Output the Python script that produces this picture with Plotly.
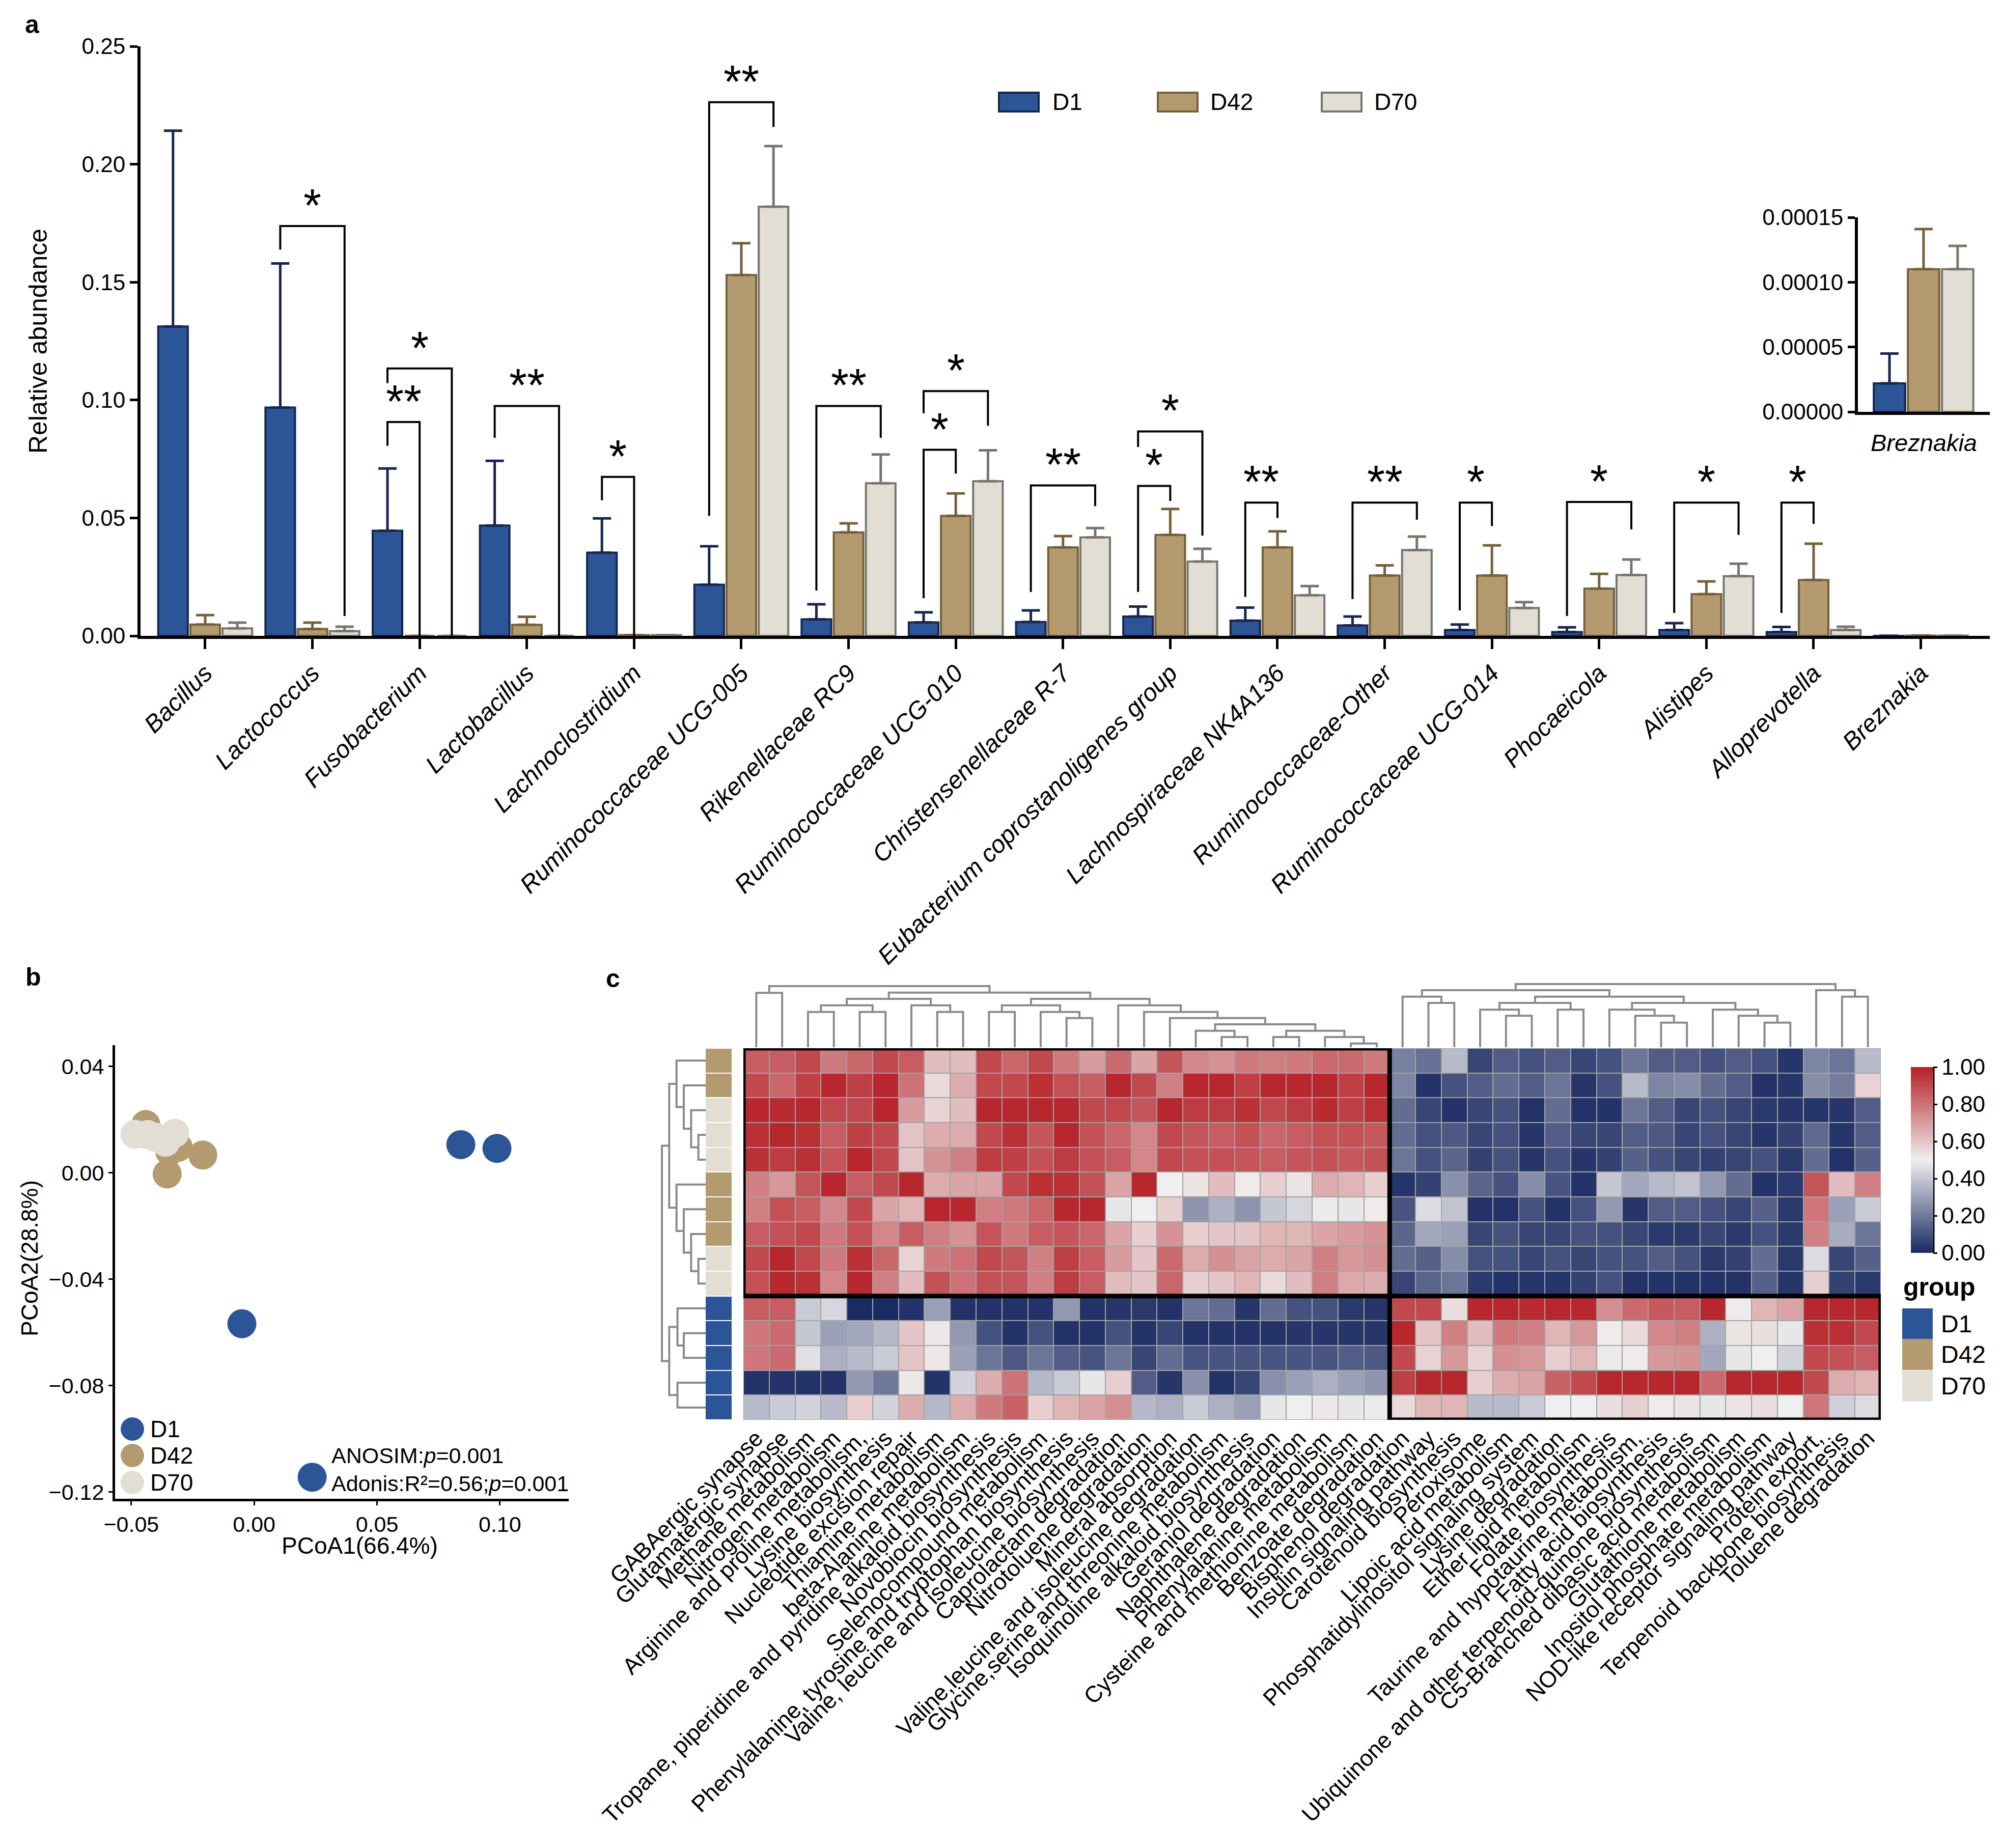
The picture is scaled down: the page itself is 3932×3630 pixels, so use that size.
import plotly.graph_objects as go

W, H = 3932, 3630
def fx(p): return p / W
def fy(p): return 1 - p / H

FONT = "Liberation Sans, Arial, Helvetica, sans-serif"

# ---------------- Panel a data ----------------
genera = ["Bacillus", "Lactococcus", "Fusobacterium", "Lactobacillus", "Lachnoclostridium",
          "Ruminococcaceae UCG-005", "Rikenellaceae RC9", "Ruminococcaceae UCG-010",
          "Christensenellaceae R-7", "Eubacterium coprostanoligenes group",
          "Lachnospiraceae NK4A136", "Ruminococcaceae-Other", "Ruminococcaceae UCG-014",
          "Phocaeicola", "Alistipes", "Alloprevotella", "Breznakia"]
groups = ["D1", "D42", "D70"]
d1_mean = [0.1312, 0.0968, 0.0446, 0.0468, 0.0353, 0.0217, 0.0070, 0.0057, 0.0059, 0.0082,
           0.0065, 0.0044, 0.0025, 0.0016, 0.0025, 0.0016, 0.000022]
d1_upper = [0.2142, 0.1579, 0.0710, 0.0742, 0.0498, 0.0380, 0.0134, 0.0100, 0.0108, 0.0124,
            0.0120, 0.0082, 0.0048, 0.0036, 0.0054, 0.0038, 0.000045]
d42_mean = [0.0048, 0.0029, 0.0, 0.0047, 0.0003, 0.1530, 0.0439, 0.0509, 0.0375, 0.0428,
            0.0375, 0.0256, 0.0256, 0.0200, 0.0177, 0.0237, 0.000110]
d42_upper = [0.0088, 0.0056, None, 0.0081, None, 0.1665, 0.0477, 0.0604, 0.0423, 0.0538,
             0.0443, 0.0299, 0.0384, 0.0263, 0.0231, 0.0391, 0.000141]
d70_mean = [0.0032, 0.0020, 0.0, 0.0, 0.0003, 0.1820, 0.0647, 0.0656, 0.0418, 0.0315,
            0.0172, 0.0364, 0.0118, 0.0258, 0.0253, 0.0025, 0.000110]
d70_upper = [0.0056, 0.0039, None, None, None, 0.2077, 0.0769, 0.0787, 0.0457, 0.0369,
             0.0211, 0.0421, 0.0143, 0.0324, 0.0306, 0.0039, 0.000128]

# significance brackets: (genus index, group a, group b, bracket height, left leg end, right leg end, label)
brackets = [
    (1, 0, 2, 0.1738, 0.1638, 0.0084, "*"),
    (2, 0, 1, 0.0907, 0.0806, 0.0, "**"),
    (2, 0, 2, 0.1134, 0.1072, 0.0, "*"),
    (3, 0, 2, 0.0975, 0.0840, 0.0, "**"),
    (4, 0, 1, 0.0674, 0.0575, 0.0, "*"),
    (5, 0, 2, 0.2263, 0.0509, 0.2158, "**"),
    (6, 0, 2, 0.0975, 0.0192, 0.0840, "**"),
    (7, 0, 1, 0.0789, 0.0160, 0.0688, "*"),
    (7, 0, 2, 0.1038, 0.0944, 0.0891, "*"),
    (8, 0, 2, 0.0638, 0.0186, 0.0550, "**"),
    (9, 0, 1, 0.0636, 0.0186, 0.0572, "*"),
    (9, 0, 2, 0.0867, 0.0801, 0.0425, "*"),
    (10, 0, 1, 0.0565, 0.0165, 0.0500, "**"),
    (11, 0, 2, 0.0565, 0.0156, 0.0493, "**"),
    (12, 0, 1, 0.0565, 0.0108, 0.0466, "*"),
    (13, 0, 2, 0.0568, 0.0084, 0.0452, "*"),
    (14, 0, 2, 0.0565, 0.0097, 0.0428, "*"),
    (15, 0, 1, 0.0565, 0.0097, 0.0475, "*"),
]

# ---------------- Panel b data ----------------
pcoa_d1_x = [0.0841, 0.0988, -0.0050, 0.0236]
pcoa_d1_y = [0.0106, 0.0092, -0.0567, -0.1144]
pcoa_d42_x = [-0.0441, -0.0354, -0.0209, -0.0344, -0.0309]
pcoa_d42_y = [0.0182, -0.0004, 0.0067, 0.0082, 0.0096]
pcoa_d70_x = [-0.0485, -0.0433, -0.0361, -0.0323, -0.0402]
pcoa_d70_y = [0.0145, 0.0144, 0.0115, 0.0149, 0.0134]

# ---------------- Panel c data ----------------
pathways = [
    "GABAergic synapse", "Glutamatergic synapse", "Methane metabolism", "Nitrogen metabolism",
    "Arginine and proline metabolism,", "Lysine biosynthesis", "Nucleotide excision repair",
    "Thiamine metabolism", "beta-Alanine metabolism",
    "Tropane, piperidine and pyridine alkaloid biosynthesis", "Novobiocin biosynthesis",
    "Selenocompound metabolism", "Phenylalanine, tyrosine and tryptophan biosynthesis",
    "Valine, leucine and isoleucine biosynthesis", "Caprolactam degradation",
    "Nitrotoluene degradation", "Mineral absorption",
    "Valine,leucine and isoleucine degradation", "Glycine,serine and threonine metabolism",
    "Isoquinoline alkaloid biosynthesis", "Geraniol degradation", "Naphthalene degradation",
    "Phenylalanine metabolism", "Cysteine and methionine metabolism", "Benzoate degradation",
    "Bisphenol degradation", "Insulin signaling pathway", "Carotenoid biosynthesis",
    "Peroxisome", "Lipoic acid metabolism", "Phosphatidylinositol signaling system",
    "Lysine degradation", "Ether lipid metabolism", "Folate biosynthesis",
    "Taurine and hypotaurine metabolism,", "Fatty acid biosynthesis",
    "Ubiquinone and other terpenoid-quinone biosynthesis", "C5-Branched dibasic acid metabolism",
    "Glutathione metabolism", "Inositol phosphate metabolism",
    "NOD-like receptor signaling pathway", "Protein export,", "Terpenoid backbone biosynthesis",
    "Toluene degradation"]
sample_groups = ["D42", "D42", "D70", "D70", "D70", "D42", "D42", "D42", "D70", "D70",
                 "D1", "D1", "D1", "D1", "D1"]
hm_values = [
    [0.85,0.85,0.90,0.78,0.83,0.90,0.85,0.62,0.62,0.90,0.83,0.90,0.78,0.70,0.82,0.68,0.87,0.75,0.72,0.78,0.77,0.78,0.82,0.82,0.78,
     0.22,0.18,0.37,0.07,0.13,0.10,0.13,0.07,0.10,0.19,0.13,0.13,0.10,0.13,0.10,0.03,0.23,0.19,0.37],
    [0.90,0.83,0.92,0.98,0.92,0.98,0.80,0.55,0.66,0.90,0.90,0.96,0.88,0.85,0.98,0.90,0.77,0.98,0.98,0.92,0.98,0.98,0.98,0.92,0.98,
     0.23,0.02,0.10,0.13,0.17,0.13,0.19,0.03,0.10,0.37,0.23,0.25,0.17,0.13,0.02,0.03,0.25,0.21,0.57],
    [0.98,0.97,0.98,0.90,0.90,0.98,0.70,0.57,0.62,0.98,0.98,0.98,0.98,0.90,0.90,0.87,0.98,0.93,0.93,0.96,0.90,0.93,0.97,0.92,0.96,
     0.17,0.07,0.02,0.07,0.10,0.02,0.17,0.02,0.02,0.19,0.13,0.07,0.10,0.07,0.04,0.03,0.03,0.03,0.13],
    [0.96,0.98,0.96,0.85,0.92,0.90,0.60,0.66,0.66,0.90,0.96,0.87,0.98,0.88,0.83,0.75,0.90,0.87,0.85,0.88,0.83,0.85,0.88,0.88,0.86,
     0.17,0.10,0.12,0.07,0.10,0.03,0.13,0.07,0.07,0.13,0.12,0.07,0.10,0.07,0.03,0.06,0.16,0.03,0.13],
    [0.96,0.93,0.96,0.87,0.98,0.90,0.60,0.72,0.77,0.93,0.92,0.88,0.93,0.88,0.85,0.75,0.90,0.88,0.88,0.87,0.85,0.87,0.88,0.86,0.88,
     0.19,0.10,0.15,0.06,0.10,0.03,0.10,0.03,0.06,0.14,0.10,0.07,0.06,0.07,0.10,0.04,0.17,0.02,0.14],
    [0.77,0.71,0.87,0.98,0.85,0.90,0.98,0.66,0.68,0.68,0.90,0.96,0.96,0.88,0.68,0.98,0.50,0.53,0.62,0.51,0.58,0.53,0.66,0.64,0.58,
     0.03,0.06,0.26,0.15,0.10,0.25,0.11,0.02,0.40,0.32,0.37,0.39,0.28,0.17,0.02,0.04,0.87,0.62,0.77],
    [0.77,0.88,0.85,0.75,0.90,0.68,0.64,0.98,0.98,0.77,0.78,0.83,0.98,0.98,0.48,0.50,0.58,0.27,0.34,0.27,0.40,0.44,0.49,0.48,0.51,
     0.11,0.45,0.39,0.02,0.02,0.10,0.02,0.10,0.28,0.03,0.13,0.13,0.10,0.07,0.14,0.04,0.79,0.30,0.41],
    [0.85,0.88,0.90,0.78,0.88,0.75,0.85,0.77,0.72,0.87,0.78,0.85,0.87,0.83,0.68,0.58,0.72,0.58,0.60,0.60,0.64,0.64,0.68,0.70,0.72,
     0.15,0.32,0.30,0.07,0.10,0.07,0.07,0.10,0.10,0.07,0.04,0.04,0.07,0.04,0.10,0.04,0.77,0.33,0.19],
    [0.90,0.98,0.90,0.78,0.96,0.83,0.57,0.78,0.80,0.90,0.87,0.77,0.92,0.85,0.70,0.60,0.82,0.66,0.73,0.68,0.66,0.68,0.77,0.71,0.73,
     0.17,0.14,0.25,0.10,0.10,0.07,0.10,0.07,0.10,0.10,0.13,0.10,0.04,0.06,0.17,0.04,0.45,0.07,0.14],
    [0.88,0.98,0.96,0.75,0.98,0.77,0.62,0.88,0.80,0.88,0.87,0.77,0.93,0.85,0.62,0.60,0.83,0.58,0.60,0.64,0.55,0.62,0.77,0.67,0.66,
     0.07,0.15,0.19,0.04,0.02,0.03,0.03,0.06,0.10,0.02,0.02,0.02,0.02,0.02,0.14,0.03,0.58,0.06,0.04],
    [0.85,0.85,0.41,0.44,0.00,0.00,0.02,0.30,0.02,0.02,0.02,0.02,0.28,0.02,0.03,0.04,0.02,0.19,0.17,0.03,0.17,0.10,0.10,0.04,0.03,
     0.90,0.90,0.54,0.98,0.98,0.97,0.98,0.98,0.73,0.82,0.86,0.85,0.98,0.51,0.64,0.68,0.98,0.98,0.98],
    [0.79,0.82,0.40,0.30,0.32,0.36,0.60,0.52,0.28,0.10,0.02,0.10,0.02,0.02,0.10,0.02,0.07,0.02,0.02,0.02,0.02,0.03,0.03,0.03,0.03,
     0.98,0.60,0.77,0.62,0.78,0.77,0.64,0.71,0.51,0.55,0.75,0.77,0.34,0.53,0.54,0.48,0.96,0.96,0.90],
    [0.79,0.82,0.46,0.34,0.37,0.41,0.60,0.52,0.30,0.19,0.12,0.19,0.13,0.11,0.19,0.07,0.17,0.11,0.11,0.11,0.11,0.11,0.11,0.13,0.12,
     0.90,0.57,0.71,0.57,0.73,0.71,0.58,0.64,0.49,0.51,0.71,0.72,0.32,0.48,0.50,0.43,0.90,0.88,0.85],
    [0.02,0.02,0.02,0.02,0.28,0.20,0.52,0.02,0.43,0.66,0.80,0.36,0.41,0.48,0.58,0.13,0.03,0.26,0.02,0.07,0.26,0.30,0.34,0.30,0.27,
     0.92,0.98,0.98,0.58,0.66,0.68,0.84,0.90,0.98,0.98,0.98,0.98,0.82,0.98,0.98,0.98,0.90,0.66,0.64],
    [0.37,0.41,0.43,0.37,0.58,0.43,0.66,0.36,0.66,0.78,0.84,0.58,0.64,0.68,0.73,0.36,0.34,0.41,0.34,0.30,0.48,0.50,0.52,0.48,0.49,
     0.55,0.64,0.64,0.37,0.37,0.41,0.50,0.50,0.54,0.58,0.51,0.53,0.48,0.53,0.54,0.50,0.79,0.42,0.45],
]
# column dendrogram merges (node, child, child, height)
col_merges = [
    ("a1", 0, 1, 320), ("a2", 2, 3, 208), ("a3", 4, 5, 208), ("a4", "a2", "a3", 247),
    ("a5", 7, 8, 208), ("a6", 6, "a5", 247), ("a7", "a4", "a6", 285), ("a8", 9, 10, 208),
    ("a9", 12, 13, 172), ("a10", 11, "a9", 208), ("a11", "a8", "a10", 247),
    ("a12", 23, 24, 22), ("a13", 22, "a12", 60), ("a14", 20, 21, 60), ("a15", "a14", "a13", 97),
    ("a16", 18, 19, 60), ("a17", 17, "a16", 97), ("a18", "a17", "a15", 135),
    ("a19", 16, "a18", 172), ("a20", 15, "a19", 208), ("a21", 14, "a20", 247),
    ("a22", "a11", "a21", 285), ("a23", "a7", "a22", 322), ("a24", "a1", "a23", 360),
    ("b1", 26, 27, 261), ("b2", 25, "b1", 298), ("b3", 29, 30, 185), ("b4", 28, "b3", 221),
    ("b5", 31, 32, 221), ("b6", "b4", "b5", 261), ("b7", 35, 36, 145), ("b8", 34, "b7", 185),
    ("b9", 33, "b8", 221), ("b10", 39, 40, 145), ("b11", 38, "b10", 185), ("b12", 37, "b11", 221),
    ("b13", "b9", "b12", 261), ("b14", "b6", "b13", 298), ("b15", "b2", "b14", 336),
    ("b16", 42, 43, 298), ("b17", 41, "b16", 336), ("b18", "b15", "b17", 372),
]
row_merges = [
    ("r1", 3, 4, 15), ("r2", 2, "r1", 30), ("r3", 1, "r2", 45), ("r4", 0, "r3", 60),
    ("r5", 8, 9, 15), ("r6", 7, "r5", 30), ("r7", 6, "r6", 45), ("r8", 5, "r7", 60),
    ("r9", "r4", "r8", 75), ("r10", 11, 12, 45), ("r11", 10, "r10", 58), ("r12", 13, 14, 58),
    ("r13", "r11", "r12", 75), ("r14", "r9", "r13", 90),
]

# ---------------- styles ----------------
fill = {"D1": "#2B5597", "D42": "#B39B6F", "D70": "#E2DED3"}
edge = {"D1": "#17254F", "D42": "#76603A", "D70": "#76766F"}
offsets = [-0.3, 0.0, 0.3]


def dendro_lines(merges):
    pos, hgt = {}, {}
    xs, ys = [], []
    for name, a, b, h in merges:
        pa = pos[a] if isinstance(a, str) else a
        ha = hgt[a] if isinstance(a, str) else 0
        pb = pos[b] if isinstance(b, str) else b
        hb = hgt[b] if isinstance(b, str) else 0
        xs += [pa, pa, pb, pb, None]
        ys += [ha, h, h, hb, None]
        pos[name] = (pa + pb) / 2
        hgt[name] = h
    return xs, ys


fig = go.Figure()

means = [d1_mean, d42_mean, d70_mean]
uppers = [d1_upper, d42_upper, d70_upper]
n = len(genera)
for gi, g in enumerate(groups):
    m = means[gi]
    err = [(u - v) if u is not None else None for u, v in zip(uppers[gi], m)]
    fig.add_trace(go.Bar(
        x=list(range(n)), y=m, name=g, showlegend=False,
        marker=dict(color=fill[g], line=dict(color=edge[g], width=4)),
        error_y=dict(type="data", symmetric=False, array=err, arrayminus=[None] * n,
                     color=edge[g], thickness=5, width=18),
        xaxis="x", yaxis="y"))
    # inset (last genus)
    fig.add_trace(go.Bar(
        x=[0], y=[m[-1]], name=g, showlegend=False,
        marker=dict(color=fill[g], line=dict(color=edge[g], width=4)),
        error_y=dict(type="data", symmetric=False, array=[uppers[gi][-1] - m[-1]],
                     arrayminus=[None], color=edge[g], thickness=5, width=18),
        xaxis="x2", yaxis="y2"))

# brackets
bx, by = [], []
annotations = []
for (ci, ga, gb, h, la, lb, lab) in brackets:
    xa = ci + offsets[ga]
    xb = ci + offsets[gb]
    bx += [xa, xa, xb, xb, None]
    by += [la, h, h, lb, None]
    annotations.append(dict(x=(xa + xb) / 2, y=h, xref="x", yref="y", text=lab,
                            showarrow=False, yanchor="bottom", yshift=-12,
                            font=dict(family=FONT, size=90, color="black")))
fig.add_trace(go.Scatter(x=bx, y=by, mode="lines", line=dict(color="black", width=4),
                         showlegend=False, hoverinfo="skip", xaxis="x", yaxis="y"))

# PCoA
for g, xs, ys in [("D1", pcoa_d1_x, pcoa_d1_y), ("D42", pcoa_d42_x, pcoa_d42_y),
                  ("D70", pcoa_d70_x, pcoa_d70_y)]:
    fig.add_trace(go.Scatter(x=xs, y=ys, mode="markers", showlegend=False,
                             marker=dict(size=57, color=fill[g], line=dict(width=0)),
                             xaxis="x3", yaxis="y3"))

# heatmap
fig.add_trace(go.Heatmap(
    z=hm_values, x=list(range(len(pathways))), y=list(range(len(sample_groups))),
    zmin=0, zmax=1, xgap=2, ygap=2,
    colorscale=[[0, "#1a2a62"], [0.5, "#f0efef"], [1, "#b51f25"]],
    colorbar=dict(thickness=44, thicknessmode="pixels", len=365, lenmode="pixels",
                  x=fx(3745), xanchor="left", y=fy(2088), yanchor="top", xpad=0, ypad=0,
                  outlinewidth=0, tickvals=[0, 0.2, 0.4, 0.6, 0.8, 1.0],
                  ticktext=["0.00", "0.20", "0.40", "0.60", "0.80", "1.00"],
                  ticks="outside", ticklen=8, tickwidth=3, tickcolor="black",
                  tickfont=dict(family=FONT, size=44, color="black")),
    xaxis="x4", yaxis="y4"))

# row annotation
gcode = {"D1": 0, "D42": 1, "D70": 2}
fig.add_trace(go.Heatmap(
    z=[[gcode[g]] for g in sample_groups], x=[0], y=list(range(len(sample_groups))),
    zmin=0, zmax=2, ygap=2, showscale=False,
    colorscale=[[0, fill["D1"]], [0.3333, fill["D1"]], [0.3334, fill["D42"]],
                [0.6666, fill["D42"]], [0.6667, fill["D70"]], [1, fill["D70"]]],
    xaxis="x7", yaxis="y7"))

# dendrograms
cx, ch = dendro_lines(col_merges)
fig.add_trace(go.Scatter(x=cx, y=ch, mode="lines", line=dict(color="#8a8a8a", width=4),
                         showlegend=False, hoverinfo="skip", xaxis="x5", yaxis="y5"))
rx, rh = dendro_lines(row_merges)
fig.add_trace(go.Scatter(x=rh, y=rx, mode="lines", line=dict(color="#8a8a8a", width=4),
                         showlegend=False, hoverinfo="skip", xaxis="x6", yaxis="y6"))

# ---------------- axes ----------------
ax_common = dict(showgrid=False, zeroline=False, color="black")
tf = lambda s: dict(family=FONT, size=s, color="black")

layout_axes = dict(
    xaxis=dict(ax_common, domain=[fx(268), fx(3900)], range=[-0.603, 16.643],
               tickvals=list(range(n)), ticktext=["<i>%s</i>" % g for g in genera],
               tickangle=-45, ticks="outside", ticklen=20, tickwidth=5, showline=True,
               linewidth=6, linecolor="black", tickfont=tf(48), anchor="y"),
    yaxis=dict(ax_common, domain=[fy(1241), fy(83)], range=[0, 0.25], dtick=0.05,
               tickformat=".2f", ticks="outside", ticklen=15, tickwidth=5, showline=True,
               linewidth=6, linecolor="black", tickfont=tf(44), anchor="x"),
    xaxis2=dict(ax_common, domain=[fx(3641), fx(3900)], range=[-0.578, 0.583],
                showticklabels=False, ticks="", showline=True, linewidth=6,
                linecolor="black", anchor="y2"),
    yaxis2=dict(ax_common, domain=[fy(801), fy(419)], range=[0, 0.00015],
                tickvals=[0, 0.00005, 0.0001, 0.00015],
                ticktext=["0.00000", "0.00005", "0.00010", "0.00015"],
                ticks="outside", ticklen=14, tickwidth=5, showline=True, linewidth=6,
                linecolor="black", tickfont=tf(44), anchor="x2"),
    xaxis3=dict(ax_common, domain=[fx(218), fx(1109)], range=[-0.0566, 0.128],
                tickvals=[-0.05, 0, 0.05, 0.10], tickformat=".2f", ticks="outside",
                ticklen=8, tickwidth=3, showline=True, linewidth=5, linecolor="black",
                tickfont=tf(43), anchor="y3"),
    yaxis3=dict(ax_common, domain=[fy(2936), fy(2045)], range=[-0.1225, 0.048],
                tickvals=[0.04, 0, -0.04, -0.08, -0.12], tickformat=".2f", ticks="outside",
                ticklen=8, tickwidth=3, showline=True, linewidth=5, linecolor="black",
                tickfont=tf(43), anchor="x3"),
    xaxis4=dict(ax_common, domain=[fx(1452), fx(3686)], range=[-0.5, 43.5],
                tickvals=list(range(len(pathways))), ticktext=pathways, tickangle=-45,
                ticks="", tickfont=tf(45), showline=False, anchor="y4"),
    yaxis4=dict(ax_common, domain=[fy(2781), fy(2051)], range=[14.5, -0.5],
                showticklabels=False, ticks="", showline=False, anchor="x4"),
    xaxis5=dict(ax_common, domain=[fx(1452), fx(3686)], range=[-0.5, 43.5],
                visible=False, anchor="y5"),
    yaxis5=dict(ax_common, domain=[fy(2049), fy(1915)], range=[0, 402],
                visible=False, anchor="x5"),
    xaxis6=dict(ax_common, domain=[fx(1280), fx(1378)], range=[102.6, 0],
                visible=False, anchor="y6"),
    yaxis6=dict(ax_common, domain=[fy(2781), fy(2051)], range=[14.5, -0.5],
                visible=False, anchor="x6"),
    xaxis7=dict(ax_common, domain=[fx(1378), fx(1429)], range=[-0.5, 0.5],
                visible=False, anchor="y7"),
    yaxis7=dict(ax_common, domain=[fy(2781), fy(2051)], range=[14.5, -0.5],
                visible=False, anchor="x7"),
)


def txt(x, y, s, size, xanchor="left", yanchor="middle", angle=0):
    return dict(x=fx(x), y=fy(y), xref="paper", yref="paper", text=s, showarrow=False,
                xanchor=xanchor, yanchor=yanchor, textangle=angle,
                font=dict(family=FONT, size=size, color="black"))


annotations += [
    txt(55, 40, "<b>a</b>", 50, "center"),
    txt(57, 1911, "<b>b</b>", 50, "center"),
    txt(1196, 1914, "<b>c</b>", 50, "center"),
    txt(67, 662, "Relative abundance", 50, "center", angle=-90),
    txt(3770, 862, "<i>Breznakia</i>", 47, "center"),
    txt(50, 2464, "PCoA2(28.8%)", 46, "center", angle=-90),
    txt(698, 3028, "PCoA1(66.4%)", 46, "center"),
    txt(641, 2851, "ANOSIM:<i>p</i>=0.001", 43),
    txt(641, 2906, "Adonis:R²=0.56;<i>p</i>=0.001", 43),
    txt(3728, 2520, "<b>group</b>", 50),
]

shapes = []
# panel a legend
for (x0, tx, g) in [(1954, 2057, "D1"), (2266, 2367, "D42"), (2588, 2689, "D70")]:
    shapes.append(dict(type="rect", xref="paper", yref="paper", x0=fx(x0), x1=fx(x0 + 78),
                       y0=fy(211), y1=fy(174), fillcolor=fill[g],
                       line=dict(color=edge[g], width=4)))
    annotations.append(txt(tx, 192, g, 46))
# pcoa legend
for (cy, g) in [(2799, "D1"), (2851, "D42"), (2904, "D70")]:
    shapes.append(dict(type="circle", xref="paper", yref="paper", x0=fx(229), x1=fx(275),
                       y0=fy(cy + 23), y1=fy(cy - 23), fillcolor=fill[g],
                       line=dict(width=0)))
    annotations.append(txt(285, cy, g, 46))
# heatmap group legend
for (y0, g) in [(2562, "D1"), (2622, "D42"), (2684, "D70")]:
    shapes.append(dict(type="rect", xref="paper", yref="paper", x0=fx(3728), x1=fx(3788),
                       y0=fy(y0 + 61), y1=fy(y0), fillcolor=fill[g], line=dict(width=0)))
    annotations.append(txt(3802, y0 + 30, g, 48))
# heatmap cell border backdrop
shapes.append(dict(type="rect", xref="x4", yref="y4", x0=-0.5, x1=43.5, y0=-0.5, y1=14.5,
                   fillcolor="#a3a3a3", line=dict(width=0), layer="below"))
# cluster boxes
shapes.append(dict(type="rect", xref="x4", yref="y4", x0=-0.5, x1=24.5, y0=-0.5, y1=9.5,
                   line=dict(color="black", width=9)))
shapes.append(dict(type="rect", xref="x4", yref="y4", x0=24.5, x1=43.5, y0=9.5, y1=14.5,
                   line=dict(color="black", width=9)))
# colorbar edge line
shapes.append(dict(type="line", xref="paper", yref="paper", x0=fx(3790), x1=fx(3790),
                   y0=fy(2453), y1=fy(2088), line=dict(color="black", width=3)))

fig.update_layout(
    width=W, height=H, autosize=False, margin=dict(l=0, r=0, t=0, b=0),
    paper_bgcolor="white", plot_bgcolor="white", template="none",
    barmode="group", bargap=0.1, bargroupgap=0.08,
    font=dict(family=FONT, color="black"),
    annotations=annotations, shapes=shapes, showlegend=False,
    **layout_axes)

fig.write_html("out.html")
